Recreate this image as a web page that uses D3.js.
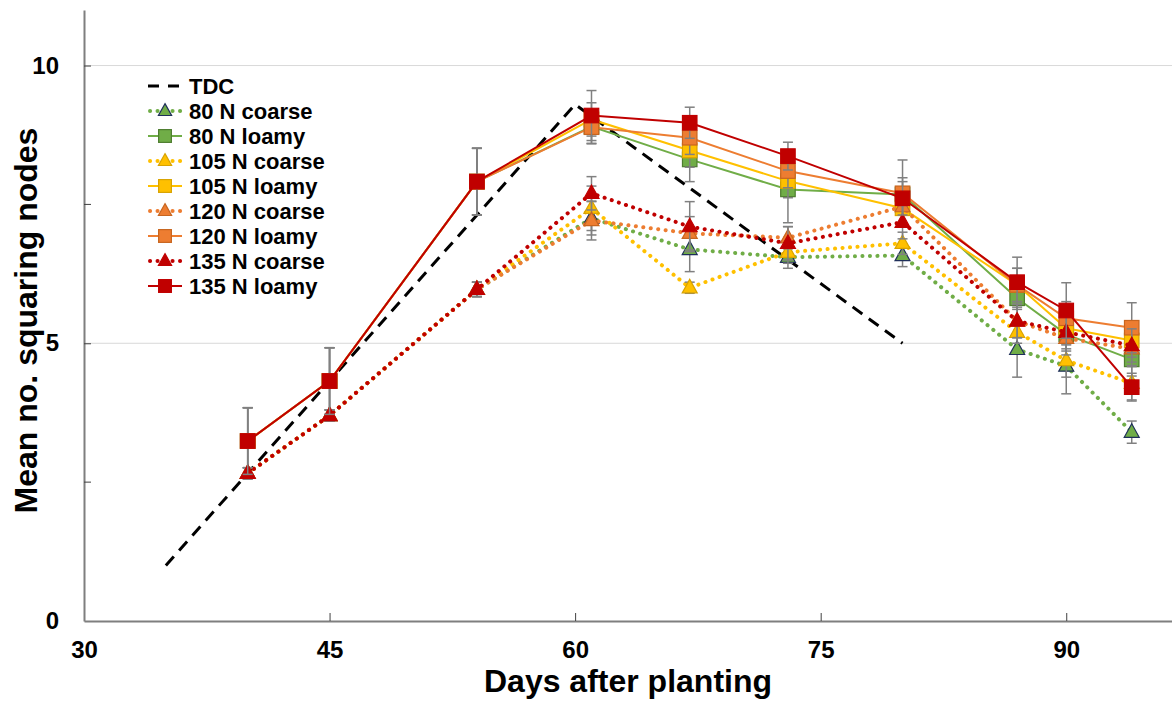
<!DOCTYPE html>
<html>
<head>
<meta charset="utf-8">
<script src="https://cdn.jsdelivr.net/npm/d3@7/dist/d3.min.js"></script>
<style>
  html, body { margin: 0; padding: 0; background: #fff; }
  svg { display: block; font-family: Arial, "Liberation Sans", sans-serif; }
</style>
</head>
<body>
<svg id="chart" width="1172" height="704"></svg>
<script>
// ---------- data ----------
const days = [40, 45, 54, 61, 67, 73, 80, 87, 90, 94];
const tdcDays = [35, 60, 80];
const tdcValues = [1.0, 9.3, 5.0];

const n80Coarse  = [2.66, 3.70, 5.97, 7.25, 6.69, 6.55, 6.58, 4.89, 4.59, 3.40];
const n80Loamy   = [3.24, 4.32, 7.91, 8.90, 8.31, 7.77, 7.68, 5.81, 5.16, 4.71];
const n105Coarse = [2.66, 3.70, 5.97, 7.43, 6.00, 6.64, 6.80, 5.20, 4.69, 4.28];
const n105Loamy  = [3.24, 4.32, 7.91, 9.03, 8.47, 7.92, 7.43, 6.05, 5.27, 5.05];
const n120Coarse = [2.66, 3.70, 5.97, 7.21, 6.98, 6.90, 7.46, 5.40, 5.09, 4.90];
const n120Loamy  = [3.24, 4.32, 7.91, 8.89, 8.70, 8.10, 7.70, 6.05, 5.45, 5.28];
const n135Coarse = [2.66, 3.70, 5.97, 7.70, 7.10, 6.80, 7.18, 5.40, 5.20, 4.96];
const n135Loamy  = [3.24, 4.32, 7.91, 9.10, 8.97, 8.37, 7.61, 6.10, 5.59, 4.21];

const e80Coarse  = [0.10, 0.10, 0.13, 0.30, 0.40, 0.20, 0.20, 0.50, 0.50, 0.20];
const e80Loamy   = [0.60, 0.60, 0.60, 0.30, 0.40, 0.60, 0.30, 0.20, 0.30, 0.30];
const e105Coarse = [0.10, 0.10, 0.13, 0.40, 0.10, 0.20, 0.20, 0.20, 0.30, 0.30];
const e105Loamy  = [0.60, 0.60, 0.60, 0.30, 0.30, 0.30, 0.30, 0.30, 0.30, 0.30];
const e120Coarse = [0.10, 0.10, 0.13, 0.35, 0.30, 0.20, 0.30, 0.30, 0.30, 0.30];
const e120Loamy  = [0.60, 0.60, 0.60, 0.30, 0.30, 0.30, 0.60, 0.30, 0.30, 0.45];
const e135Coarse = [0.10, 0.10, 0.13, 0.30, 0.45, 0.30, 0.30, 0.30, 0.30, 0.30];
const e135Loamy  = [0.60, 0.60, 0.60, 0.45, 0.28, 0.25, 0.30, 0.45, 0.50, 0.25];

const seriesNames = ["80 N coarse", "80 N loamy", "105 N coarse", "105 N loamy",
                     "120 N coarse", "120 N loamy", "135 N coarse", "135 N loamy"];
const xTicks = [30, 45, 60, 75, 90];
const yTicks = [0, 5, 10];
const yMinorTicks = [2.5, 7.5];

// ---------- styles ----------
const seriesValues = [n80Coarse, n80Loamy, n105Coarse, n105Loamy, n120Coarse, n120Loamy, n135Coarse, n135Loamy];
const seriesErrors = [e80Coarse, e80Loamy, e105Coarse, e105Loamy, e120Coarse, e120Loamy, e135Coarse, e135Loamy];
const styles = [
  {color: "#70ad47", stroke: "#1f2f5a", type: "coarse"},
  {color: "#70ad47", stroke: "#4e7d2f", type: "loamy"},
  {color: "#ffc000", stroke: "#d9a300", type: "coarse"},
  {color: "#ffc000", stroke: "#d9a300", type: "loamy"},
  {color: "#ed7d31", stroke: "#c8651f", type: "coarse"},
  {color: "#ed7d31", stroke: "#c8651f", type: "loamy"},
  {color: "#c00000", stroke: "#c00000", type: "coarse"},
  {color: "#c00000", stroke: "#c00000", type: "loamy"}
];

const W = 1172, H = 704;
const M = {left: 84, right: 0, top: 10, bottom: 83};
const svg = d3.select("#chart");

const x = d3.scaleLinear().domain([30, 96.46]).range([M.left, W - M.right]);
const y = d3.scaleLinear().domain([0, 11]).range([H - M.bottom, M.top]);

// gridlines
svg.append("g").selectAll("line").data([5, 10]).join("line")
  .attr("x1", x(30)).attr("x2", W)
  .attr("y1", d => y(d)).attr("y2", d => y(d))
  .attr("stroke", "#d9d9d9").attr("stroke-width", 1);

// axes
const axisColor = "#7f7f7f";
const xAxis = svg.append("g").attr("transform", `translate(0,${y(0)})`)
  .call(d3.axisBottom(x).tickValues(xTicks).tickFormat(d3.format("d"))
        .tickSize(-8).tickSizeOuter(0).tickPadding(20));
const yAxis = svg.append("g").attr("transform", `translate(${x(30)},0)`)
  .call(d3.axisLeft(y).tickValues(yTicks).tickFormat(d3.format("d"))
        .tickSize(-7).tickSizeOuter(0).tickPadding(25));
[xAxis, yAxis].forEach(g => {
  g.select(".domain").attr("stroke", axisColor).attr("stroke-width", 2);
  g.selectAll(".tick line").attr("stroke", "#404040").attr("stroke-width", 1);
  g.selectAll(".tick text").attr("fill", "#000").attr("font-size", 24)
    .attr("font-weight", "bold").attr("font-family", "Arial, 'Liberation Sans', sans-serif");
});
xAxis.selectAll(".tick").filter(d => d === 30).select("line").remove();
yAxis.selectAll(".tick").filter(d => d === 0).select("line").remove();
svg.append("g").selectAll("line").data(yMinorTicks).join("line")
  .attr("x1", x(30)).attr("x2", x(30) + 7)
  .attr("y1", d => y(d)).attr("y2", d => y(d))
  .attr("stroke", "#404040").attr("stroke-width", 1);

// axis titles
svg.append("text").attr("x", (x(30) + W) / 2).attr("y", 692)
  .attr("text-anchor", "middle").attr("font-size", 32).attr("font-weight", "bold")
  .text("Days after planting");
svg.append("text").attr("transform", `translate(37,${(M.top + y(0)) / 2 + 5}) rotate(-90)`)
  .attr("text-anchor", "middle").attr("font-size", 32).attr("font-weight", "bold")
  .text("Mean no. squaring nodes");

// TDC line
const line = d3.line().x(d => x(d[0])).y(d => y(d[1]));
svg.append("path").datum(tdcDays.map((d, i) => [d, tdcValues[i]]))
  .attr("d", line).attr("fill", "none").attr("stroke", "#000")
  .attr("stroke-width", 3).attr("stroke-dasharray", "12 8");

const triPath = size => {
  const h = size * 0.9, w = size;
  return `M0,${-h * 0.62} L${w / 2},${h * 0.38} L${-w / 2},${h * 0.38} Z`;
};
function drawMarker(g, type, st, cx, cy, scale) {
  if (type === "coarse") {
    g.append("path").attr("d", triPath(15 * scale))
      .attr("transform", `translate(${cx},${cy})`)
      .attr("fill", st.color).attr("stroke", st.stroke).attr("stroke-width", 1.2);
  } else {
    const s = 14.5 * scale;
    g.append("rect").attr("x", cx - s / 2).attr("y", cy - s / 2)
      .attr("width", s).attr("height", s)
      .attr("fill", st.color).attr("stroke", st.stroke).attr("stroke-width", 1.2);
  }
}

// series
seriesValues.forEach((vals, si) => {
  const st = styles[si];
  const errs = seriesErrors[si];
  const g = svg.append("g");
  const pts = days.map((d, i) => [d, vals[i]]);
  const p = g.append("path").datum(pts).attr("d", line).attr("fill", "none")
    .attr("stroke", st.color);
  if (st.type === "coarse") {
    p.attr("stroke-width", 4).attr("stroke-dasharray", "0.1 7.4").attr("stroke-linecap", "round");
  } else {
    p.attr("stroke-width", 2);
  }
  // error bars
  const eb = g.append("g").attr("stroke", "#808080").attr("stroke-width", 1.5);
  days.forEach((d, i) => {
    const cx = x(d), y1 = y(vals[i] + errs[i]), y2 = y(vals[i] - errs[i]);
    eb.append("line").attr("x1", cx).attr("x2", cx).attr("y1", y1).attr("y2", y2);
    eb.append("line").attr("x1", cx - 5).attr("x2", cx + 5).attr("y1", y1).attr("y2", y1);
    eb.append("line").attr("x1", cx - 5).attr("x2", cx + 5).attr("y1", y2).attr("y2", y2);
  });
  days.forEach((d, i) => drawMarker(g, st.type, st, x(d), y(vals[i]), 1));
});

// legend
const leg = svg.append("g");
const lx0 = 148, lx1 = 182, ly0 = 86, dy = 25;
leg.append("line").attr("x1", lx0).attr("x2", lx1).attr("y1", ly0).attr("y2", ly0)
  .attr("stroke", "#000").attr("stroke-width", 3).attr("stroke-dasharray", "11 9");
leg.append("text").attr("x", 189).attr("y", ly0).attr("dy", "0.36em")
  .attr("font-size", 22).attr("font-weight", "bold").text("TDC");
seriesNames.forEach((name, si) => {
  const st = styles[si];
  const yy = ly0 + (si + 1) * dy;
  const l = leg.append("line").attr("x1", lx0).attr("x2", lx1).attr("y1", yy).attr("y2", yy)
    .attr("stroke", st.color);
  if (st.type === "coarse") {
    l.attr("stroke-width", 4).attr("stroke-dasharray", "0.1 7.4").attr("stroke-linecap", "round")
      .attr("x1", lx0 + 2);
  } else {
    l.attr("stroke-width", 2);
  }
  drawMarker(leg, st.type, st, (lx0 + lx1) / 2, yy, 0.88);
  leg.append("text").attr("x", 189).attr("y", yy).attr("dy", "0.36em")
    .attr("font-size", 22).attr("font-weight", "bold").text(name);
});
</script>
</body>
</html>
